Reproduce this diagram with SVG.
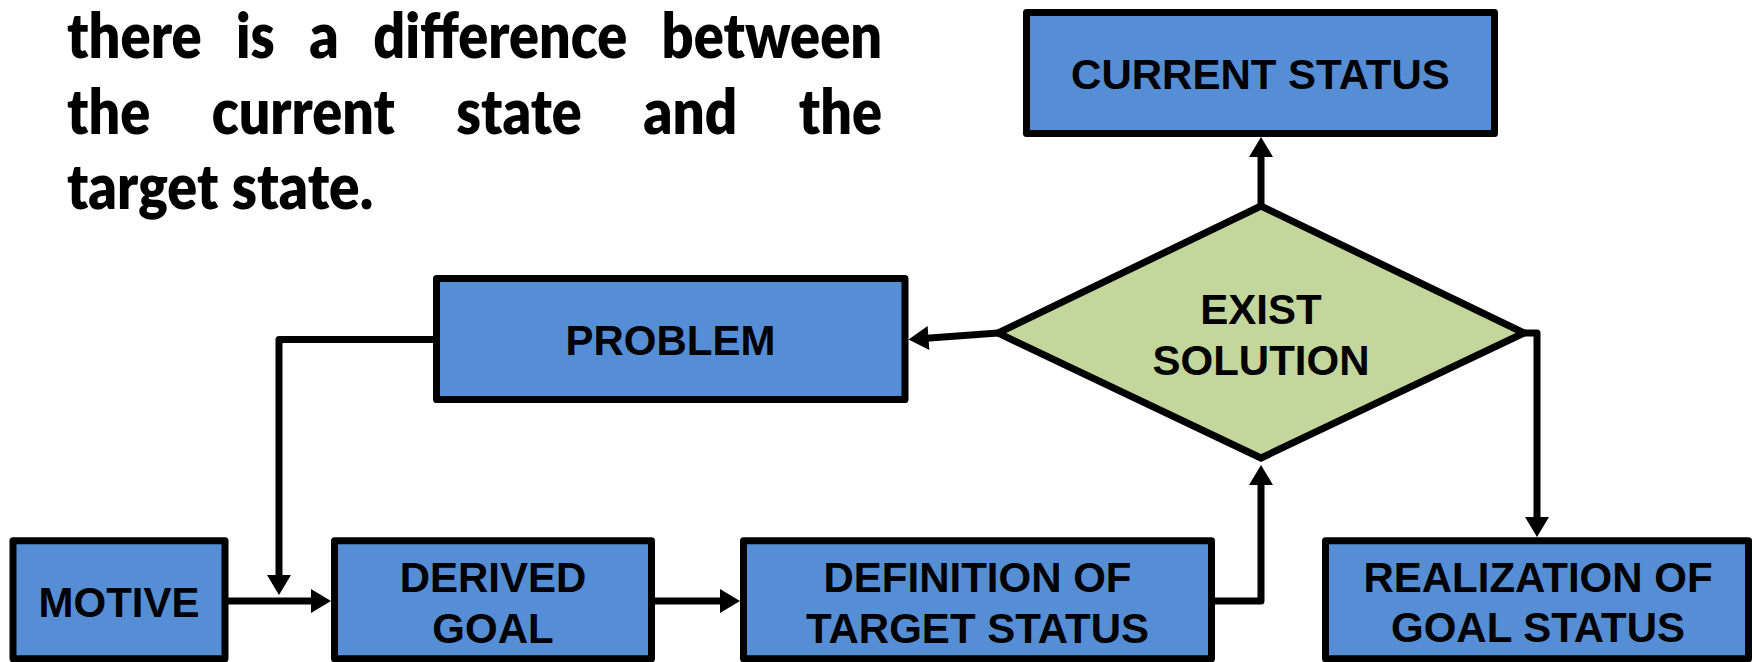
<svg xmlns="http://www.w3.org/2000/svg" width="1752" height="662" viewBox="0 0 1752 662">
  <style>
    .box { fill: #558ED5; stroke: #000; stroke-width: 7; stroke-linejoin: round; }
    .dec { fill: #C3D69B; stroke: #000; stroke-width: 7; stroke-linejoin: miter; }
    .lbl { font-family: "Liberation Sans", Arial, sans-serif; font-weight: bold; font-size: 42px; fill: #000; text-anchor: middle; }
    .note { font-family: Lato, "Open Sans", sans-serif; font-weight: 800; font-size: 62px; fill: #000; }
    .wire { fill: none; stroke: #000; stroke-width: 7; stroke-linejoin: round; marker-end: url(#head); }
  </style>
  <defs>
    <marker id="head" markerUnits="userSpaceOnUse" markerWidth="20" markerHeight="24" refX="2" refY="12" orient="auto" overflow="visible">
      <path d="M0,0 L20,12 L0,24 z" fill="#000"/>
    </marker>
  </defs>

  <rect width="1752" height="662" fill="#fff"/>

  <!-- justified caption -->
  <g id="caption" class="note">
    <text x="67" y="58" textLength="134.7" lengthAdjust="spacingAndGlyphs">there</text>
    <text x="236.1" y="58" textLength="38.7" lengthAdjust="spacingAndGlyphs">is</text>
    <text x="309.2" y="58" textLength="29.6" lengthAdjust="spacingAndGlyphs">a</text>
    <text x="373.2" y="58" textLength="254" lengthAdjust="spacingAndGlyphs">difference</text>
    <text x="661.6" y="58" textLength="220.5" lengthAdjust="spacingAndGlyphs">between</text>
    <text x="67" y="133.5" textLength="83.2" lengthAdjust="spacingAndGlyphs">the</text>
    <text x="211.7" y="133.5" textLength="183.1" lengthAdjust="spacingAndGlyphs">current</text>
    <text x="456.3" y="133.5" textLength="125.4" lengthAdjust="spacingAndGlyphs">state</text>
    <text x="643.2" y="133.5" textLength="94.1" lengthAdjust="spacingAndGlyphs">and</text>
    <text x="798.8" y="133.5" textLength="83.2" lengthAdjust="spacingAndGlyphs">the</text>
    <text x="67" y="209" textLength="151.2" lengthAdjust="spacingAndGlyphs">target</text>
    <text x="231.8" y="209" textLength="141.4" lengthAdjust="spacingAndGlyphs">state.</text>
  </g>

  <!-- connectors -->
  <g id="connectors">
    <path class="wire" d="M1261,206 V155"/>
    <path class="wire" d="M998,333 L926.5,338.2"/>
    <path class="wire" d="M436.5,339.5 H279 V577"/>
    <path class="wire" d="M225,601 H313"/>
    <path class="wire" d="M651.5,601 H722"/>
    <path class="wire" d="M1211.5,601 H1261 V483"/>
    <path class="wire" d="M1524,333 H1537 V519"/>
  </g>

  <g id="current-status">
    <rect class="box" x="1026.5" y="12.5" width="468" height="121"/>
    <text class="lbl" x="1260.5" y="88.5">CURRENT STATUS</text>
  </g>

  <g id="problem">
    <rect class="box" x="436.5" y="278.5" width="468.5" height="121"/>
    <text class="lbl" x="670.5" y="354.5">PROBLEM</text>
  </g>

  <g id="exist-solution">
    <polygon class="dec" points="1261,206 1524,333 1261,458 998,333"/>
    <text class="lbl" x="1261" y="324">EXIST</text>
    <text class="lbl" x="1261" y="375">SOLUTION</text>
  </g>

  <g id="motive">
    <rect class="box" x="13" y="540.8" width="212" height="118"/>
    <text class="lbl" x="119" y="617">MOTIVE</text>
  </g>

  <g id="derived-goal">
    <rect class="box" x="334.5" y="540.8" width="317" height="118"/>
    <text class="lbl" x="493" y="592">DERIVED</text>
    <text class="lbl" x="493" y="643">GOAL</text>
  </g>

  <g id="target-definition">
    <rect class="box" x="743.5" y="540.8" width="468" height="118"/>
    <text class="lbl" x="977.5" y="592">DEFINITION OF</text>
    <text class="lbl" x="977.5" y="643">TARGET STATUS</text>
  </g>

  <g id="goal-realization">
    <rect class="box" x="1325.5" y="540.8" width="423" height="118"/>
    <text class="lbl" x="1538" y="592">REALIZATION OF</text>
    <text class="lbl" x="1538" y="642">GOAL STATUS</text>
  </g>
</svg>
